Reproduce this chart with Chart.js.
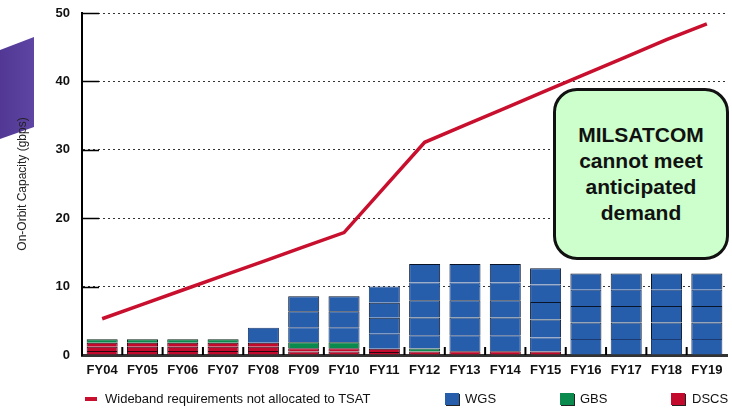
<!DOCTYPE html>
<html lang="en">
<head>
<meta charset="UTF-8">
<title>On-Orbit Capacity</title>
<script src="https://cdn.jsdelivr.net/npm/chart.js"></script>
<style>
  body { margin: 0; background: #fff; font-family: Arial, "Liberation Sans", sans-serif; }
  #wrap { position: relative; width: 732px; height: 409px; overflow: hidden; }
  #deco { position: absolute; left: 0; top: 0; width: 40px; height: 150px;
          background: linear-gradient(90deg, #523894, #6147a6);
          clip-path: polygon(0 50px, 34px 37px, 34px 127px, 0 139px); }
  #myChart { position: absolute; left: 0; top: 0; }
  .callout { position: absolute; left: 553px; top: 88px; width: 170px; height: 166px;
             border: 3px solid #111; border-radius: 24px; background: #ccffcc;
             display: flex; align-items: center; justify-content: center; text-align: center;
             font: bold 21px/26px Arial, "Liberation Sans", sans-serif; color: #111; }
  .leg { position: absolute; top: 391px; font-size: 13px; color: #111; line-height: 15px; }
  .leg .sw { position: absolute; top: 2px; width: 14px; height: 12px; box-shadow: 1px 1px 0 #222; }
</style>
</head>
<body>
<div id="wrap">
  <div id="deco"></div>
  <canvas id="myChart" width="732" height="409"></canvas>
  <div class="callout">MILSATCOM<br>cannot meet<br>anticipated<br>demand</div>

  <div class="leg" style="left:85px;"><span style="position:absolute;left:0;top:6px;width:12px;height:4px;background:#c8102e"></span><span style="margin-left:20px">Wideband requirements not allocated to TSAT</span></div>
  <div class="leg" style="left:445px;"><span class="sw" style="background:#265eac"></span><span style="margin-left:20px">WGS</span></div>
  <div class="leg" style="left:560px;"><span class="sw" style="background:#0a8a4c"></span><span style="margin-left:20px">GBS</span></div>
  <div class="leg" style="left:671px;"><span class="sw" style="background:#c40a2c"></span><span style="margin-left:21px">DSCS</span></div>
</div>

<script>
// categories and values (gbps)
var years = ['FY04','FY05','FY06','FY07','FY08','FY09','FY10','FY11','FY12','FY13','FY14','FY15','FY16','FY17','FY18','FY19'];
var wideband = [5.3, 7.4, 9.5, 11.6, 13.7, 15.8, 17.9, 24.5, 31.1, 33.6, 36.1, 38.6, 41.1, 43.6, 46.1, 48.4];

// each bar is a stack of blocks (bottom to top)
var dscs1 = [0.6, 0.6, 0.6, 0.6, 0.6, 0.5, 0.5, 0.45, 0.5, 0.55, 0.55, 0.5, null, null, null, null];
var dscs2 = [0.6, 0.6, 0.6, 0.6, 0.6, 0.5, 0.5, 0.45, null, null, null, null, null, null, null, null];
var dscs3 = [0.6, 0.6, 0.6, 0.6, 0.6, null, null, null, null, null, null, null, null, null, null, null];
var gbs   = [0.5, 0.5, 0.5, 0.5, null, 0.85, 0.85, null, 0.45, null, null, null, null, null, null, null];
var wgs1  = [null, null, null, null, 2.2, 2.2, 2.2, 2.2, 1.95, 2.35, 2.35, 2.05, 2.35, 2.35, 2.35, 2.35];
var wgs2  = [null, null, null, null, null, 2.35, 2.35, 2.35, 2.6, 2.6, 2.6, 2.65, 2.4, 2.4, 2.4, 2.4];
var wgs3  = [null, null, null, null, null, 2.2, 2.2, 2.2, 2.5, 2.5, 2.5, 2.55, 2.4, 2.4, 2.4, 2.4];
var wgs4  = [null, null, null, null, null, null, null, 2.35, 2.6, 2.6, 2.6, 2.55, 2.4, 2.4, 2.4, 2.4];
var wgs5  = [null, null, null, null, null, null, null, null, 2.7, 2.7, 2.7, 2.4, 2.35, 2.35, 2.35, 2.35];

var yTicks = [0, 10, 20, 30, 40, 50];

var RED = '#c40a2c', GREEN = '#0a8a4c', BLUE = '#265eac';

function block(name, data, color, edge) {
    return {
        type: 'bar',
        label: name,
        data: data,
        stack: 'cap',
        backgroundColor: color,
        borderColor: edge,
        borderWidth: { top: 1, left: 1, right: 1, bottom: 0 },
        borderSkipped: false,
        barPercentage: 0.77,
        categoryPercentage: 1
    };
}

// short ticks drawn inside the axes
var innerTicks = {
    id: 'innerTicks',
    afterDraw: function(chart) {
        var ctx = chart.ctx, a = chart.chartArea;
        var x = chart.scales.x, y = chart.scales.y;
        ctx.save();
        ctx.strokeStyle = '#000';
        ctx.lineWidth = 1.5;
        yTicks.forEach(function(v) {
            if (v == 0) return;
            var py = Math.round(y.getPixelForValue(v)) + 0.5;
            ctx.beginPath();
            ctx.moveTo(a.left, py);
            ctx.lineTo(a.left + 17, py);
            ctx.stroke();
        });
        ctx.lineWidth = 2;
        for (var i = 1; i < years.length; i++) {
            var px = (x.getPixelForValue(i - 1) + x.getPixelForValue(i)) / 2;
            ctx.beginPath();
            ctx.moveTo(px, a.bottom);
            ctx.lineTo(px, a.bottom - 8);
            ctx.stroke();
        }
        ctx.restore();
    }
};

new Chart(document.getElementById('myChart'), {
    data: {
        labels: years,
        datasets: [
            {
                type: 'line',
                label: 'Wideband requirements not allocated to TSAT',
                data: wideband,
                stack: 'req',
                borderColor: '#c8102e',
                borderWidth: 3.5,
                pointRadius: 0,
                tension: 0,
                fill: false
            },
            block('DSCS', dscs1, RED, '#2a0510'),
            block('DSCS', dscs2, RED, '#2a0510'),
            block('DSCS', dscs3, RED, '#2a0510'),
            block('GBS', gbs, GREEN, '#08261a'),
            block('WGS', wgs1, BLUE, '#1c3a70'),
            block('WGS', wgs2, BLUE, '#0a1428'),
            block('WGS', wgs3, BLUE, '#0a1428'),
            block('WGS', wgs4, BLUE, '#1c3a70'),
            block('WGS', wgs5, BLUE, '#0a1428')
        ]
    },
    options: {
        responsive: false,
        animation: false,
        layout: { padding: { top: 13, right: 5, bottom: 0, left: 0 } },
        plugins: {
            legend: { display: false },
            tooltip: { enabled: false }
        },
        scales: {
            x: {
                stacked: true,
                grid: { display: false, drawTicks: false },
                border: { display: true, color: '#333', width: 3 },
                ticks: { color: '#111', padding: 8, font: { family: 'Arial', size: 13, weight: 'bold' } },
                afterFit: function(s) { s.height = 54; s.paddingLeft = 0; s.paddingRight = 0; }
            },
            y: {
                stacked: true,
                min: 0,
                max: 50,
                afterBuildTicks: function(s) { s.ticks = yTicks.map(function(v) { return { value: v }; }); },
                grid: { color: '#333', lineWidth: 1, drawTicks: false },
                border: { display: true, color: '#000', width: 2, dash: [2, 3] },
                ticks: { color: '#111', padding: 12, font: { family: 'Arial', size: 13, weight: 'bold' } },
                title: {
                    display: true,
                    text: 'On-Orbit Capacity (gbps)',
                    color: '#222',
                    font: { family: 'Arial', size: 12 },
                    padding: { top: 15, bottom: 0 }
                },
                afterFit: function(s) { s.width = 82; s.paddingTop = 0; s.paddingBottom = 0; }
            }
        }
    },
    plugins: [innerTicks]
});
</script>
</body>
</html>
